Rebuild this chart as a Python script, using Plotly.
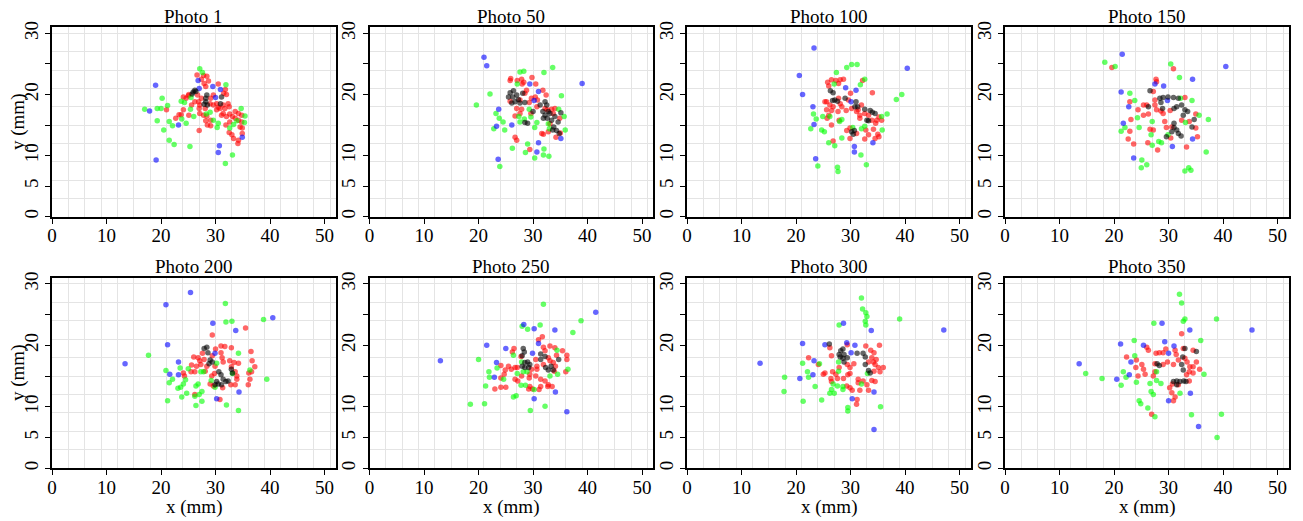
import plotly.graph_objects as go

# ---------------- data (x mm, y mm) ----------------
photo_titles = ["Photo 1", "Photo 50", "Photo 100", "Photo 150",
                "Photo 200", "Photo 250", "Photo 300", "Photo 350"]

p1_red = [(26.6,23.2),(27.8,23.1),(28.4,23.0),(27.4,22.5),(28.7,22.2),(27.9,21.8),(28.2,21.3),(30.5,21.7),
          (31.8,20.8),(31.5,20.2),(32.0,20.0),(24.1,19.6),(24.6,19.4),(25.1,20.0),(26.7,19.9),(26.9,18.8),
          (27.1,18.3),(27.0,17.7),(28.1,17.7),(29.0,18.5),(29.6,18.3),(30.2,18.5),(30.5,17.9),(31.4,18.3),
          (31.7,17.7),(32.3,18.5),(32.5,18.0),(24.1,17.5),(23.3,16.7),(22.7,16.1),(21.0,17.5),(23.7,16.7),
          (25.1,16.6),(27.1,16.9),(27.8,16.6),(28.4,16.5),(29.1,15.8),(28.2,15.7),(28.5,15.0),(29.1,14.9),
          (27.0,14.1),(31.4,16.9),(32.0,16.4),(32.6,16.8),(33.6,17.2),(34.2,16.9),(34.8,16.6),(33.6,16.1),
          (34.2,15.8),(34.8,15.5),(32.5,13.8),(33.0,13.4),(33.3,12.8),(34.2,12.5),(34.9,14.5),(34.9,13.6),
          (34.1,12.0),(32.6,15.5),(31.1,16.6),(30.2,17.5),(26.2,18.8),(25.6,18.3),(29.6,19.9),(29.1,19.4),
          (25.0,19.8),(27.4,19.4),(30.8,17.7),(33.1,16.4),(34.5,14.7),(31.9,15.0)]
p1_green = [(27.1,24.2),(27.6,23.6),(31.9,21.6),(20.2,19.4),(17.0,17.6),(19.3,17.7),(20.0,17.7),(21.2,18.2),
            (23.7,18.9),(24.3,18.7),(25.5,19.5),(25.4,17.6),(29.0,17.1),(26.0,16.4),(23.8,16.0),(24.6,15.3),
            (21.5,15.6),(22.1,14.9),(19.3,15.7),(20.5,14.2),(21.5,12.5),(22.4,11.8),(25.3,11.5),(29.6,15.8),
            (30.5,15.3),(30.3,14.6),(32.6,14.5),(33.3,15.1),(33.9,15.7),(34.7,17.7),(35.4,16.5),(35.3,15.4),
            (33.1,10.1),(31.8,8.7),(28.3,16.8)]
p1_blue = [(19.0,21.5),(17.9,17.3),(26.8,22.3),(27.0,21.0),(29.5,21.3),(30.9,20.8),(30.0,19.5),(23.2,15.0),
           (30.7,11.6),(30.5,10.5),(34.9,13.0),(19.1,9.3)]
p1_black = [(25.9,20.4),(26.2,20.7),(25.7,20.1),(26.4,20.5),(28.4,19.9),(28.2,18.8),(28.5,18.3),(27.9,18.4),
            (31.1,19.6),(30.9,18.5),(28.2,19.4)]

p50_red = [(25.9,22.6),(25.8,22.3),(27.9,22.5),(28.3,22.0),(28.0,21.7),(29.8,22.8),(30.5,21.7),(31.8,20.7),
           (32.4,19.9),(28.8,20.7),(28.5,20.2),(30.4,19.6),(30.8,19.1),(25.8,18.9),(27.6,19.1),(27.0,17.7),
           (27.9,17.6),(29.3,18.7),(27.6,16.9),(26.7,16.5),(29.6,16.9),(30.7,18.0),(32.6,17.5),(33.4,17.6),
           (34.0,17.7),(33.7,16.9),(34.9,16.1),(33.1,15.2),(32.8,13.9),(31.9,13.5),(34.2,13.0),(35.0,13.7),
           (26.7,13.0),(27.0,12.5),(29.4,11.0),(31.6,13.6),(32.2,17.7),(29.7,19.4),(27.1,22.3)]
p50_green = [(27.6,23.7),(28.3,23.8),(32.0,23.6),(33.6,24.4),(27.1,21.7),(22.1,20.1),(19.6,18.3),(35.2,19.8),
             (23.2,16.9),(23.8,16.1),(24.5,15.5),(22.8,14.4),(24.8,14.2),(27.4,16.4),(27.6,15.5),(28.4,16.0),
             (29.6,16.3),(30.7,15.4),(30.3,14.6),(29.3,17.6),(32.8,15.2),(33.0,14.4),(34.7,17.6),(35.7,16.4),
             (35.9,14.2),(29.0,11.9),(26.2,11.2),(28.6,10.5),(32.0,11.1),(31.9,10.1),(32.9,9.9),(30.3,9.6),
             (23.9,8.2)]
p50_blue = [(21.0,26.1),(21.5,24.7),(39.0,21.8),(29.4,21.7),(31.0,20.5),(30.2,19.0),(23.7,17.6),(23.3,14.8),
            (26.1,15.0),(31.0,12.1),(30.7,10.6),(23.6,9.4),(35.1,12.8)]
p50_black = [(25.8,20.3),(26.4,20.6),(25.5,19.6),(26.3,19.6),(27.0,19.9),(27.3,19.2),(26.7,18.8),(27.6,18.6),
             (26.1,18.6),(28.1,20.2),(28.5,18.7),(29.0,15.3),(28.5,15.4),(30.0,17.2),(31.3,18.3),(32.2,18.8),
             (32.5,18.3),(31.8,17.2),(32.2,16.6),(32.6,16.1),(33.1,16.9),(33.4,15.8),(34.0,16.4),(34.6,15.5),
             (35.1,17.0),(33.8,14.7),(34.3,14.1),(33.6,14.2),(32.8,17.2),(31.9,16.1),(34.8,13.6)]

p100_red = [(25.8,22.0),(26.5,22.4),(27.3,22.3),(28.1,22.4),(28.7,22.5),(26.0,21.4),(27.8,21.8),(32.2,22.3),
            (30.0,20.2),(34.0,20.3),(25.6,18.8),(26.2,18.3),(27.8,19.4),(28.1,18.5),(26.8,18.0),(25.6,17.5),
            (26.5,17.4),(27.7,17.2),(29.2,17.4),(30.2,17.7),(31.1,17.2),(32.0,18.3),(32.6,16.9),(31.7,16.6),
            (33.3,16.6),(33.9,15.8),(34.8,15.8),(35.2,16.3),(35.7,15.8),(26.0,16.6),(25.7,16.1),(27.9,15.8),
            (26.5,15.0),(29.3,14.1),(29.9,14.5),(32.8,14.2),(34.2,14.3),(34.6,15.3),(35.0,13.5),(35.2,13.1),
            (34.5,12.8),(33.3,13.4),(32.6,12.7),(31.1,13.6),(29.9,12.8),(26.8,12.4),(25.3,18.8),(29.6,19.1),
            (31.4,17.5),(31.7,16.1),(28.4,18.0)]
p100_green = [(29.3,24.4),(30.2,24.9),(31.2,24.9),(27.4,23.6),(27.0,21.7),(31.8,21.6),(32.6,22.5),(39.4,20.0),
              (38.4,19.2),(36.7,16.8),(35.7,16.4),(35.8,14.2),(23.2,16.8),(23.7,16.0),(22.7,14.4),(24.9,16.4),
              (26.2,16.4),(28.4,15.9),(28.0,15.6),(24.7,14.2),(25.2,13.9),(26.0,12.1),(27.1,11.6),(28.4,12.9),
              (30.4,14.6),(32.0,14.4),(32.6,14.8),(31.9,10.1),(32.9,8.5),(24.0,8.3),(27.6,8.1),(27.7,7.4)]
p100_blue = [(23.3,27.6),(20.6,23.1),(21.2,20.0),(40.4,24.3),(29.1,21.1),(31.0,20.7),(30.1,18.8),(23.1,18.0),
             (23.3,15.1),(34.1,12.1),(30.7,11.5),(30.7,10.6),(23.6,9.5)]
p100_black = [(26.3,20.6),(26.8,20.3),(27.1,19.1),(26.7,19.0),(27.6,18.9),(29.0,19.4),(31.0,18.8),(31.3,18.0),
              (30.8,18.0),(32.6,17.6),(33.6,17.4),(34.0,17.1),(34.5,16.9),(33.0,15.8),(33.3,15.7),(30.7,14.1),
              (30.5,13.5),(30.2,13.9)]

p150_red = [(19.6,24.4),(30.9,24.2),(27.7,22.5),(27.8,22.1),(22.9,18.8),(25.4,18.3),(26.0,18.3),(27.5,19.1),
            (27.5,18.3),(27.8,17.5),(28.6,17.3),(29.0,16.9),(33.0,19.5),(27.2,20.5),(24.4,17.5),(25.4,16.6),
            (26.3,16.8),(23.1,15.9),(22.9,14.0),(22.6,12.7),(23.6,11.9),(26.6,14.3),(27.2,14.2),(26.2,12.1),
            (28.0,10.9),(30.4,12.9),(30.6,14.7),(33.3,11.4),(35.3,13.1),(35.0,14.5),(35.0,16.8),(33.8,15.6),
            (32.4,15.8),(30.3,17.4),(29.3,15.6),(29.6,14.6)]
p150_green = [(18.3,25.3),(20.2,24.6),(30.4,25.0),(32.0,22.8),(22.9,20.2),(23.8,19.0),(34.3,19.0),(32.2,19.4),
              (35.6,16.6),(37.3,15.9),(21.3,14.0),(22.0,14.6),(24.3,16.2),(24.6,14.6),(27.0,15.6),(33.1,15.4),
              (29.9,13.4),(26.8,13.4),(27.0,11.7),(28.2,12.3),(28.7,12.1),(25.1,9.3),(26.0,8.5),(25.0,8.0),
              (33.0,7.5),(33.7,8.0),(34.1,7.6),(36.9,10.6)]
p150_blue = [(21.5,26.6),(40.5,24.6),(21.3,20.4),(22.7,18.0),(27.5,21.7),(29.1,21.4),(34.4,22.5),(29.8,19.0),
             (21.7,15.3),(23.6,9.6),(30.7,11.5),(34.4,12.7)]
p150_black = [(26.6,20.6),(28.4,19.4),(29.0,19.5),(29.9,19.6),(30.9,19.5),(31.8,19.4),(28.6,18.7),(28.9,17.7),
              (31.0,17.7),(31.5,18.0),(32.4,18.3),(33.0,17.5),(33.5,17.2),(32.7,16.6),(34.7,15.9),(34.3,14.7),
              (31.0,15.3),(31.0,14.6),(31.5,14.2),(30.6,13.9),(31.8,13.6),(32.3,13.2),(26.3,18.0),(29.6,13.1)]

p200_red = [(29.4,21.7),(31.0,19.9),(31.7,19.8),(32.9,19.6),(35.5,22.8),(36.5,19.0),(30.0,19.4),(31.0,18.8),
            (31.2,18.0),(31.4,17.3),(32.6,17.5),(33.4,17.2),(34.2,17.1),(32.9,16.5),(33.6,15.7),(33.9,14.5),
            (32.8,13.6),(33.6,13.6),(33.9,15.0),(36.7,17.5),(37.2,16.5),(36.6,15.7),(36.1,15.5),(36.3,14.5),
            (36.0,13.6),(26.0,18.1),(26.8,18.0),(25.6,16.8),(26.5,16.6),(27.3,16.9),(27.9,17.7),(27.6,18.7),
            (27.1,17.5),(24.1,15.5),(24.3,15.0),(25.5,15.7),(26.2,15.7),(28.1,15.8),(29.3,15.0),(29.8,15.4),
            (29.0,13.7),(29.6,13.4),(31.3,13.1),(26.2,12.0),(30.8,11.2),(29.4,18.3),(29.9,16.6),(28.4,16.6)]
p200_green = [(31.8,26.8),(31.9,23.8),(33.0,23.9),(38.8,24.2),(17.7,18.4),(20.9,15.9),(21.5,13.9),(22.1,14.5),
              (23.1,13.0),(23.6,13.2),(24.1,13.7),(24.5,14.4),(23.5,16.3),(25.0,16.2),(26.4,13.4),(26.8,13.7),
              (27.5,12.5),(27.0,12.0),(26.2,11.7),(24.7,12.2),(23.8,11.6),(21.2,11.0),(26.4,10.2),(27.5,10.9),
              (27.3,15.7),(27.8,15.7),(30.2,17.1),(29.2,14.3),(29.9,13.2),(32.0,10.3),(34.2,9.4),(34.2,18.7),
              (36.3,16.0),(39.4,14.5),(33.1,15.4)]
p200_blue = [(13.4,17.0),(25.4,28.6),(20.9,26.6),(40.5,24.5),(29.5,23.6),(33.7,22.4),(21.2,20.1),(23.2,17.3),
             (21.6,15.3),(23.2,15.2),(29.9,18.7),(30.2,11.3),(34.3,12.4)]
p200_black = [(27.9,19.5),(28.4,19.7),(28.6,18.8),(29.0,17.6),(28.8,17.0),(29.4,17.3),(30.6,15.7),(31.0,15.2),
              (31.4,14.5),(30.5,13.7),(31.1,13.6),(31.9,14.1),(32.3,14.2),(30.2,14.1),(32.9,16.1),(33.1,15.5),
              (29.9,13.6)]

p250_red = [(31.7,21.4),(31.0,20.9),(26.5,19.5),(26.2,18.9),(34.0,19.6),(35.4,19.1),(36.2,18.4),(36.2,17.7),
            (34.3,18.4),(31.9,19.7),(32.2,19.1),(32.8,18.0),(33.1,17.5),(33.7,17.2),(34.1,16.6),(33.9,15.8),
            (36.0,15.7),(30.5,17.7),(30.7,16.1),(30.7,16.6),(29.7,16.1),(29.4,15.3),(29.3,14.7),(26.7,16.4),
            (26.0,16.1),(25.5,16.6),(24.9,16.0),(24.1,16.7),(24.7,15.3),(24.1,14.7),(26.7,14.5),(27.2,14.2),
            (27.9,15.0),(31.4,14.5),(32.2,14.2),(32.8,13.6),(33.5,13.3),(32.7,13.3),(31.4,13.3),(31.1,12.8),
            (29.4,13.3),(29.2,12.9),(29.9,12.9),(23.0,12.9),(24.1,13.2),(25.0,13.2),(27.1,16.4),(27.8,18.2),
            (30.5,15.0),(33.1,19.9),(31.9,16.9)]
p250_green = [(31.9,26.7),(38.8,24.0),(37.3,22.1),(28.0,23.1),(29.0,22.6),(31.3,23.3),(20.0,17.7),(21.9,15.7),
              (22.0,14.8),(23.4,16.3),(21.3,13.4),(24.6,14.5),(26.4,18.4),(27.9,17.3),(28.2,15.7),(28.9,15.7),
              (27.1,15.4),(27.8,13.5),(28.6,13.5),(30.2,12.8),(26.9,11.8),(26.4,11.6),(18.5,10.4),(21.1,10.5),
              (29.5,9.4),(32.2,10.1),(34.4,19.2),(36.4,16.1),(34.5,15.3),(33.1,15.0)]
p250_blue = [(13.0,17.5),(41.5,25.4),(28.3,23.4),(30.2,22.7),(34.0,22.5),(21.5,20.0),(25.0,19.5),(31.0,20.3),
             (29.9,18.7),(23.3,17.2),(22.9,14.8),(34.1,12.4),(30.2,11.3),(36.2,9.2)]
p250_black = [(28.2,19.5),(28.4,18.9),(28.0,18.3),(28.5,17.2),(29.0,17.3),(29.4,16.9),(28.5,16.4),(29.2,16.4),
              (31.4,18.6),(32.2,18.2),(31.4,17.7),(32.3,16.4),(32.8,16.0),(33.3,16.6),(33.7,16.0),(34.7,17.7),
              (28.0,16.6)]

p300_red = [(26.2,19.6),(26.5,18.3),(27.9,16.4),(29.4,20.1),(32.8,19.9),(35.3,20.0),(34.3,18.8),(33.9,18.0),
            (34.7,17.7),(34.5,16.9),(35.1,16.4),(36.0,16.4),(35.4,15.7),(34.3,15.8),(34.2,17.3),(33.3,17.3),
            (30.6,17.0),(29.4,16.9),(29.9,15.4),(29.5,15.2),(26.7,15.7),(25.3,15.5),(25.0,15.3),(22.3,18.0),
            (24.1,16.9),(26.4,14.6),(26.5,14.1),(27.6,14.6),(28.7,14.6),(29.3,13.4),(29.9,13.1),(30.3,12.7),
            (31.4,13.9),(31.4,14.5),(32.3,14.2),(33.0,13.6),(33.3,12.7),(33.9,14.3),(34.5,14.1),(31.2,11.2),
            (31.1,10.4),(31.7,12.7),(27.3,15.3),(33.7,19.2),(29.9,16.4)]
p300_green = [(32.0,27.7),(32.2,25.9),(32.8,25.3),(33.0,24.7),(32.7,23.9),(32.8,23.3),(39.0,24.3),(27.9,23.3),
              (21.2,17.1),(24.3,17.0),(17.9,14.8),(17.8,12.5),(21.3,10.9),(23.5,13.3),(22.1,15.7),(22.3,14.8),
              (24.7,11.1),(27.8,17.3),(27.8,15.8),(26.8,13.7),(27.6,13.4),(28.6,13.3),(28.6,12.8),(26.5,12.8),
              (27.0,12.2),(26.2,12.2),(32.0,13.7),(33.1,15.4),(29.5,9.9),(29.5,9.3),(35.5,10.0)]
p300_blue = [(13.4,17.1),(47.1,22.5),(28.7,23.6),(33.8,22.4),(21.2,20.3),(25.3,20.1),(29.3,20.4),(30.8,20.0),
             (30.1,18.8),(23.3,17.5),(23.1,15.2),(20.7,14.6),(30.3,11.3),(34.3,12.4),(34.3,6.3)]
p300_black = [(26.1,20.2),(27.9,18.5),(28.2,19.1),(28.8,18.5),(29.4,18.0),(28.6,17.9),(28.8,17.3),(28.1,18.1),
              (31.2,18.7),(32.3,18.7),(32.7,18.1),(32.7,16.9),(33.3,15.9),(33.6,15.5),(28.6,19.4)]

p350_red = [(22.3,18.1),(26.0,19.7),(26.3,19.2),(27.7,18.7),(28.3,18.8),(29.0,18.8),(31.2,19.2),(31.4,18.5),
            (32.4,21.9),(32.7,19.5),(34.5,19.2),(24.1,17.6),(24.0,16.4),(24.4,15.0),(25.4,16.1),(25.7,15.3),
            (27.2,15.0),(27.5,15.7),(27.5,17.0),(29.0,16.9),(29.8,17.3),(30.9,16.9),(31.8,17.6),(33.0,17.9),
            (33.4,17.3),(33.9,16.5),(34.5,16.5),(35.1,17.3),(35.7,16.1),(33.8,15.7),(34.5,15.5),(33.3,15.2),
            (30.7,13.7),(30.2,13.1),(30.6,12.3),(31.2,11.6),(30.9,11.0),(31.8,13.6),(33.8,14.2),(26.9,8.8),
            (25.1,16.9),(29.5,19.4)]
p350_green = [(32.0,28.3),(32.4,26.9),(32.7,23.9),(33.0,24.3),(38.8,24.3),(27.3,23.6),(23.7,20.8),(35.9,20.8),
              (23.8,18.3),(14.8,15.4),(17.8,14.6),(21.3,13.5),(21.7,15.7),(22.2,14.8),(24.1,14.0),(24.6,11.0),
              (24.9,10.5),(26.2,9.8),(27.5,8.4),(26.6,13.8),(26.8,12.5),(27.2,12.0),(27.8,14.3),(28.6,13.8),
              (27.8,15.7),(32.1,12.2),(36.5,15.3),(34.2,8.7),(39.7,8.8),(38.9,5.0)]
p350_blue = [(13.6,17.0),(45.3,22.5),(28.8,23.6),(33.9,22.5),(21.2,20.2),(25.4,20.0),(29.3,20.6),(31.0,19.9),
             (30.0,18.7),(23.1,17.3),(22.8,15.2),(20.5,14.5),(30.0,11.0),(34.0,12.2),(35.5,6.8)]
p350_black = [(28.3,16.7),(27.9,17.0),(33.0,19.5),(32.6,18.1),(32.4,16.9),(32.7,16.0),(35.1,19.0),(30.9,14.1),
              (31.5,14.2),(32.1,14.1),(32.8,14.2),(33.2,14.1),(31.5,13.6)]

x_ticks = [0, 10, 20, 30, 40, 50]
y_ticks = [0, 5, 10, 15, 20, 25, 30]
y_ticktext = ["0", "5", "10", "", "20", "", "30"]

# ---------------- figure ----------------
panels = [
    (p1_red, p1_green, p1_blue, p1_black),
    (p50_red, p50_green, p50_blue, p50_black),
    (p100_red, p100_green, p100_blue, p100_black),
    (p150_red, p150_green, p150_blue, p150_black),
    (p200_red, p200_green, p200_blue, p200_black),
    (p250_red, p250_green, p250_blue, p250_black),
    (p300_red, p300_green, p300_blue, p300_black),
    (p350_red, p350_green, p350_blue, p350_black),
]
colors = ["rgba(255,0,0,0.6)", "rgba(0,255,0,0.6)", "rgba(0,0,255,0.6)", "rgba(0,0,0,0.6)"]

W, H = 1303, 521
col_px = [(52, 335.5), (369.5, 653), (687, 970.5), (1005, 1288.5)]
row_px = [(27.3, 216.7), (277.7, 468.3)]

FONT = "Liberation Serif, Times New Roman, serif"
FS = 19

# grid lines every 3 mm (tiny offset where they coincide with labelled ticks)
grid_x = [v + (0.001 if v in (0, 30) else 0) for v in range(0, 52, 3)]
grid_y = [v + (0.001 if v in (0, 15, 30) else 0) for v in range(0, 31, 3)]

fig = go.Figure()
layout = dict(template="none", width=W, height=H, autosize=False,
              margin=dict(l=0, r=0, t=0, b=0, pad=0),
              paper_bgcolor="white", plot_bgcolor="white", showlegend=False,
              font=dict(family=FONT, size=FS, color="black"))
annotations = []

for i, series in enumerate(panels):
    r, c = divmod(i, 4)
    xa = "x" if i == 0 else f"x{i+1}"
    ya = "y" if i == 0 else f"y{i+1}"
    xd = [col_px[c][0] / W, col_px[c][1] / W]
    yd = [1 - row_px[r][1] / H, 1 - row_px[r][0] / H]
    for pts, col in zip(series, colors):
        fig.add_trace(go.Scatter(
            x=[p[0] for p in pts], y=[p[1] for p in pts], mode="markers",
            marker=dict(size=5.5, color=col, line=dict(width=0)),
            xaxis=xa, yaxis=ya, hoverinfo="skip"))
    common = dict(showline=True, linecolor="black", linewidth=1.6, mirror=True,
                  ticks="outside", ticklen=5, tickwidth=1.3, tickcolor="black",
                  showgrid=False, zeroline=False, fixedrange=True, automargin=False,
                  tickfont=dict(family=FONT, size=FS, color="black"))
    layout["xaxis" if i == 0 else f"xaxis{i+1}"] = dict(
        common, domain=xd, range=[0, 52], anchor=ya, tickmode="array", tickvals=x_ticks,
        ticklabelstandoff=-4,
        minor=dict(tickmode="array", tickvals=grid_x, showgrid=True,
                   gridcolor="#e4e4e4", gridwidth=1, ticks=""))
    layout["yaxis" if i == 0 else f"yaxis{i+1}"] = dict(
        common, domain=yd, range=[0, 31], anchor=xa, tickmode="array",
        tickvals=y_ticks, ticktext=y_ticktext, tickangle=-90,
        minor=dict(tickmode="array", tickvals=grid_y, showgrid=True,
                   gridcolor="#e4e4e4", gridwidth=1, ticks=""))
    xc = (xd[0] + xd[1]) / 2
    annotations.append(dict(text=photo_titles[i], x=xc, xref="paper",
                            y=1 - (row_px[r][0] - 11) / H, yref="paper",
                            xanchor="center", yanchor="middle", showarrow=False,
                            font=dict(family=FONT, size=FS, color="black")))
    if r == 1:
        annotations.append(dict(text="x (mm)", x=xc, xref="paper", y=1 - 507 / H, yref="paper",
                                xanchor="center", yanchor="middle", showarrow=False,
                                font=dict(family=FONT, size=FS, color="black")))
    if c == 0:
        annotations.append(dict(text="y (mm)", x=18 / W, xref="paper",
                                y=(yd[0] + yd[1]) / 2, yref="paper", textangle=-90,
                                xanchor="center", yanchor="middle", showarrow=False,
                                font=dict(family=FONT, size=FS, color="black")))

layout["annotations"] = annotations
fig.update_layout(**layout)
fig.write_html("out.html", config={"displayModeBar": False},
               post_script="document.body.style.margin='0';document.body.style.padding='0';"
                           "document.body.style.overflow='hidden';")
